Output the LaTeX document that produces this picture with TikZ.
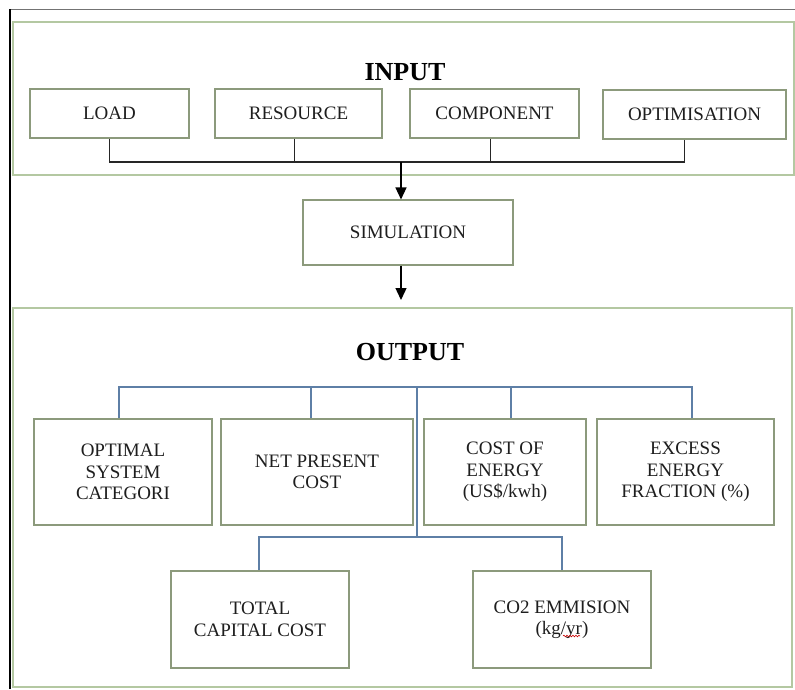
\documentclass[tikz,border=0pt]{standalone}
\usepackage{fontspec}
\setmainfont{Liberation Serif}
\usetikzlibrary{arrows.meta,decorations.pathmorphing}
\definecolor{boxline}{HTML}{8C9A7C}
\definecolor{framecol}{HTML}{B4C8A2}
\definecolor{bluel}{HTML}{5E7FA6}
\definecolor{txt}{HTML}{1E1E1E}
\begin{document}
\begin{tikzpicture}[x=1pt,y=-1pt,
  box/.style={draw=boxline, line width=1.1pt, fill=white, inner sep=0pt, align=center,
    font=\fontsize{19}{21.5}\selectfont, text=txt},
  frame/.style={draw=framecol, line width=1.2pt, inner sep=0pt},
  title/.style={font=\fontsize{26}{28}\selectfont\bfseries, text=black, inner sep=0pt},
  blk/.style={draw=black!85, line width=1.2pt},
  blu/.style={draw=bluel, line width=1.1pt},
  arr/.style={draw=black, line width=1.4pt, -{Triangle[width=11pt,length=12pt]}}]
\useasboundingbox (0,0) rectangle (795,689);
\fill[white] (0,0) rectangle (795,689);
% outer page border
\draw[black!55, line width=1pt] (10,9) -- (795,9);
\draw[black, line width=2pt] (10,9) -- (10,689);
% frames
\node[frame, minimum width=781pt, minimum height=153pt] (inframe) at (403.5,98.5) {};
\node[frame, minimum width=779pt, minimum height=379pt] (outframe) at (402.5,497.5) {};
\node[title] (intitle) at (405,72) {INPUT};
\node[title] (outtitle) at (410,352) {OUTPUT};
% input boxes
\node[box, minimum width=159pt, minimum height=49pt] (load) at (109.5,113.5) {LOAD};
\node[box, minimum width=167pt, minimum height=49pt] (res) at (298.5,113.5) {RESOURCE};
\node[box, minimum width=169pt, minimum height=49pt] (comp) at (494.5,113.5) {COMPONENT};
\node[box, minimum width=183pt, minimum height=49pt] (opt) at (694.5,114.5) {OPTIMISATION};
\coordinate (j1) at (401,162);
\draw[blk] (load.south) |- (j1) -| ([xshift=-10pt]opt.south);
\draw[blk] ([xshift=-4pt]res.south) -- ([xshift=-4pt]res.south |- j1);
\draw[blk] ([xshift=-4pt]comp.south) -- ([xshift=-4pt]comp.south |- j1);
% simulation
\node[box, minimum width=210pt, minimum height=65pt] (sim) at (408,232.5) {SIMULATION};
\draw[arr] (j1) -- (j1 |- sim.north);
\coordinate (a2) at (401,300);
\draw[arr] (a2 |- sim.south) -- (a2);
% output boxes
\node[box, minimum width=178pt, minimum height=106pt] (osc) at (123,472) {OPTIMAL\\SYSTEM\\CATEGORI};
\node[box, minimum width=192pt, minimum height=106pt] (npc) at (317,472) {NET PRESENT\\COST};
\node[box, minimum width=162pt, minimum height=106pt] (coe) at (505,472) {COST OF\\ENERGY\\(US\$/kwh)};
\node[box, minimum width=177pt, minimum height=106pt] (eef) at (685.5,472) {EXCESS\\ENERGY\\FRACTION (\%)};
\node[box, minimum width=178pt, minimum height=97pt] (tcc) at (260,619.5) {TOTAL\\CAPITAL COST};
\node[box, minimum width=178pt, minimum height=97pt] (co2) at (562,619.5) {CO2 EMMISION\\(kg/yr)};
\coordinate (top) at (417,387);
\coordinate (bot) at (417,537);
\draw[blu] ([xshift=-4pt]osc.north) |- (top) -| ([xshift=6.5pt]eef.north);
\draw[blu] ([xshift=-6pt]npc.north) -- ([xshift=-6pt]npc.north |- top);
\draw[blu] ([xshift=6pt]coe.north) -- ([xshift=6pt]coe.north |- top);
\draw[blu] (top) -- (bot);
\draw[blu] ([xshift=-1pt]tcc.north) |- (bot) -| (co2.north);
% spell-check squiggle
\draw[red!80!black, line width=0.6pt, decorate, decoration={snake, amplitude=0.8pt, segment length=3pt}] (563,636) -- (580,636);
\end{tikzpicture}
\end{document}
